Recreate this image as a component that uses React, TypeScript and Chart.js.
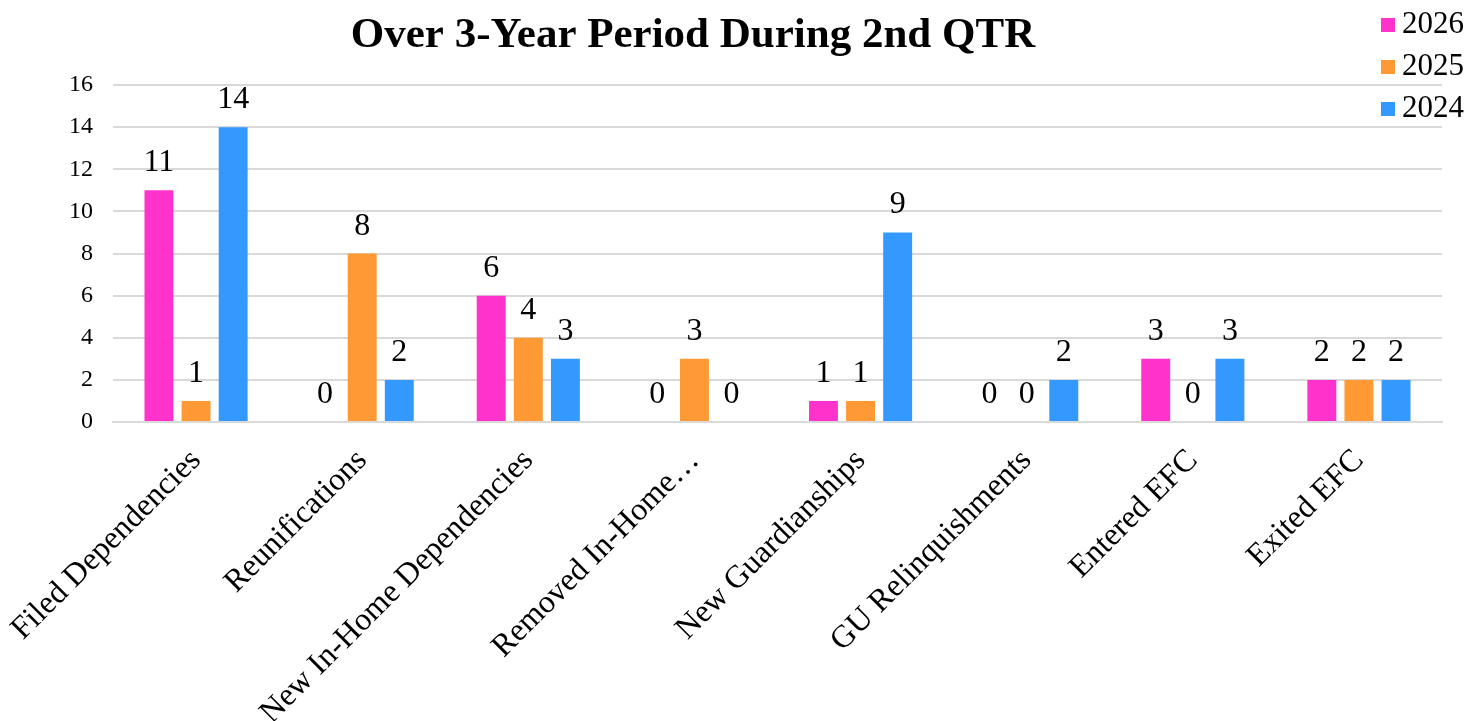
import React, { useEffect, useRef } from "react";
import { Chart, registerables } from "chart.js";

Chart.register(...registerables);

const categories = [
  "Filed Dependencies",
  "Reunifications",
  "New In-Home Dependencies",
  "Removed In-Home…",
  "New Guardianships",
  "GU Relinquishments",
  "Entered EFC",
  "Exited EFC",
];
const seriesNames = ["2026", "2025", "2024"];
const values2026 = [11, 0, 6, 0, 1, 0, 3, 2];
const values2025 = [1, 8, 4, 3, 1, 0, 0, 2];
const values2024 = [14, 2, 3, 0, 9, 2, 3, 2];
const seriesColors = ["#FF33CC", "#FF9933", "#3399FF"];
const titleText = "Over 3-Year Period During 2nd QTR";
const yMin = 0;
const yMax = 16;
const yStep = 2;

const FONT = "'Liberation Serif', 'Times New Roman', serif";

export default function App() {
  const ref = useRef<HTMLCanvasElement | null>(null);

  useEffect(() => {
    const canvas = ref.current;
    if (!canvas) return;

    const titlePlugin = {
      id: "customTitle",
      afterDraw(chart: any) {
        const ctx = chart.ctx;
        ctx.save();
        ctx.font = `bold 43px ${FONT}`;
        ctx.fillStyle = "#000";
        ctx.textAlign = "center";
        ctx.textBaseline = "alphabetic";
        ctx.fillText(titleText, 693, 47);
        ctx.restore();
      },
    };

    const legendPlugin = {
      id: "customLegend",
      afterDraw(chart: any) {
        const ctx = chart.ctx;
        ctx.save();
        ctx.font = `31px ${FONT}`;
        ctx.textAlign = "left";
        ctx.textBaseline = "alphabetic";
        chart.data.datasets.forEach((ds: any, i: number) => {
          const base = 33 + i * 42;
          ctx.fillStyle = ds.backgroundColor;
          ctx.fillRect(1381, base - 15, 14, 14);
          ctx.fillStyle = "#000";
          ctx.fillText(ds.label, 1402, base);
        });
        ctx.restore();
      },
    };

    const valueLabelPlugin = {
      id: "valueLabels",
      afterDatasetsDraw(chart: any) {
        const ctx = chart.ctx;
        ctx.save();
        ctx.font = `32px ${FONT}`;
        ctx.fillStyle = "#000";
        ctx.textAlign = "center";
        ctx.textBaseline = "alphabetic";
        chart.data.datasets.forEach((ds: any, di: number) => {
          const meta = chart.getDatasetMeta(di);
          meta.data.forEach((el: any, i: number) => {
            ctx.fillText(String(ds.data[i]), el.x, el.y - 19);
          });
        });
        ctx.restore();
      },
    };

    const chart = new Chart(canvas, {
      type: "bar",
      data: {
        labels: categories,
        datasets: [
          { label: seriesNames[0], data: values2026, backgroundColor: seriesColors[0] },
          { label: seriesNames[1], data: values2025, backgroundColor: seriesColors[1] },
          { label: seriesNames[2], data: values2024, backgroundColor: seriesColors[2] },
        ],
      },
      options: {
        responsive: false,
        animation: false,
        devicePixelRatio: 1,
        layout: { padding: { top: 85, right: 29, left: 0, bottom: 0 } },
        datasets: {
          bar: { categoryPercentage: 0.67, barPercentage: 0.78 },
        },
        plugins: {
          legend: { display: false },
          title: { display: false },
          tooltip: { enabled: false },
        },
        scales: {
          x: {
            grid: { display: false, drawTicks: false },
            border: { display: true, color: "#d9d9d9", width: 2 },
            ticks: {
              minRotation: 45,
              maxRotation: 45,
              autoSkip: false,
              color: "#000",
              padding: 20,
              font: { family: FONT, size: 32 },
            },
            afterFit(scale: any) {
              scale.height = 299;
              scale.paddingLeft = 0;
              scale.paddingRight = 0;
            },
          },
          y: {
            min: yMin,
            max: yMax,
            grid: { color: "#d9d9d9", lineWidth: 2, drawTicks: false },
            border: { display: false },
            ticks: {
              stepSize: yStep,
              color: "#000",
              padding: 20,
              font: { family: FONT, size: 24 },
            },
            afterFit(scale: any) {
              scale.width = 113;
            },
          },
        },
      },
      plugins: [titlePlugin, legendPlugin, valueLabelPlugin],
    });

    return () => chart.destroy();
  }, []);

  return (
    <div style={{ position: "fixed", left: 0, top: 0, width: 1471, height: 721, background: "#fff" }}>
      <canvas ref={ref} width={1471} height={721} style={{ display: "block", width: 1471, height: 721 }} />
    </div>
  );
}
